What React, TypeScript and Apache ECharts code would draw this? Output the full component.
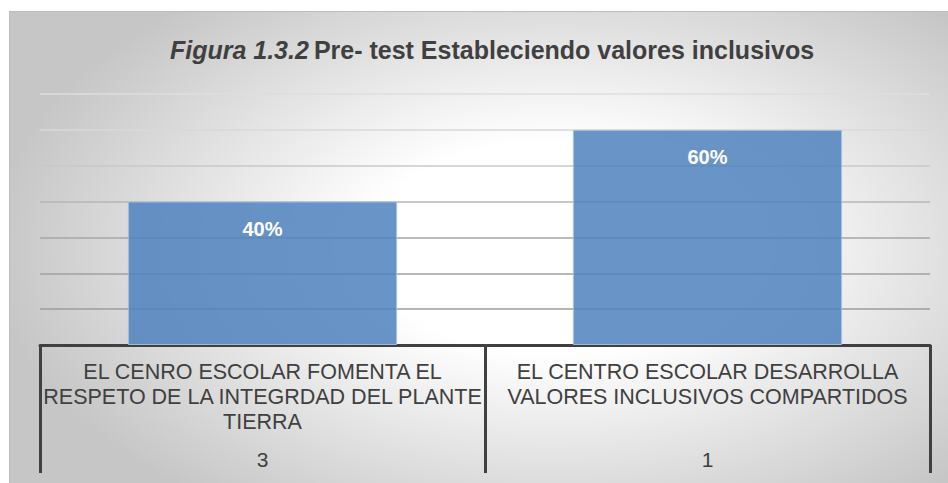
import React, { useEffect, useRef } from "react";
import * as echarts from "echarts";

const titleItalic = "Figura 1.3.2";
const titleRest = "Pre- test Estableciendo valores inclusivos";
const categories = [
  "EL CENRO ESCOLAR FOMENTA EL\nRESPETO DE LA INTEGRDAD DEL PLANTE\nTIERRA",
  "EL CENTRO ESCOLAR DESARROLLA\nVALORES INCLUSIVOS COMPARTIDOS",
];
const counts = ["3", "1"];
const values = [0.4, 0.6];
const gridColors = ["#999999", "#9c9c9c", "#a0a0a0", "#a6a6a6", "#b6b6b6", "#c8c8c8", "#d8d8d8", "#dedede"];

export default function App() {
  const ref = useRef<HTMLDivElement>(null);
  useEffect(() => {
    if (!ref.current) return;
    const chart = echarts.init(ref.current, null, { renderer: "svg" });
    chart.setOption({
      animation: false,
      backgroundColor: "transparent",
      title: {
        left: 487,
        textAlign: "center",
        top: 32,
        text: `{i|${titleItalic}} {b|${titleRest}}`,
        textStyle: {
          rich: {
            i: { fontFamily: "Liberation Sans, Arial", fontSize: 25, fontWeight: "bold", fontStyle: "italic", color: "#404040" },
            b: { fontFamily: "Liberation Sans, Arial", fontSize: 25, fontWeight: "bold", color: "#404040" },
          },
        },
      },
      grid: { left: 40, right: 18, top: 94, bottom: 138, containLabel: false },
      xAxis: [
        {
          type: "category",
          data: categories,
          position: "bottom",
          axisLine: { show: true, lineStyle: { color: "#404040", width: 3 } },
          axisTick: { show: true, length: 128, alignWithLabel: false, lineStyle: { color: "#404040", width: 3 } },
          axisLabel: {
            interval: 0,
            margin: 14,
            fontFamily: "Liberation Sans, Arial",
            fontSize: 21.5,
            lineHeight: 25,
            color: "#404040",
            align: "center",
          },
          splitLine: { show: false },
        },
        {
          type: "category",
          data: counts,
          position: "bottom",
          axisLine: { show: false },
          axisTick: { show: false },
          axisLabel: {
            interval: 0,
            margin: 103,
            fontFamily: "Liberation Sans, Arial",
            fontSize: 21,
            lineHeight: 22,
            color: "#404040",
          },
        },
      ],
      yAxis: {
        type: "value",
        min: 0,
        max: 0.7,
        interval: 0.1,
        axisLine: { show: false },
        axisTick: { show: false },
        axisLabel: { show: false },
        splitLine: { show: true, lineStyle: { color: gridColors, width: 1.5 } },
      },
      series: [
        {
          type: "bar",
          data: values,
          xAxisIndex: 0,
          barWidth: "60.5%",
          itemStyle: {
            color: "rgba(79,129,189,0.85)",
            borderColor: "rgba(170,195,225,0.9)",
            borderWidth: 1,
          },
          label: {
            show: true,
            position: "insideTop",
            distance: 17,
            formatter: (p: any) => `${Math.round(p.value * 100)}%`,
            color: "#ffffff",
            fontFamily: "Liberation Sans, Arial",
            fontWeight: "bold",
            fontSize: 20,
          },
        },
      ],
    });
    return () => chart.dispose();
  }, []);

  return (
    <div style={{ position: "absolute", left: 0, top: 0, width: 948, height: 483, overflow: "hidden", background: "#ffffff" }}>
      <div
        style={{
          position: "absolute",
          left: 9,
          top: 11,
          width: 948 - 9,
          height: 483 - 11,
          boxSizing: "border-box",
          borderTop: "1px solid #bdbdbd",
          borderLeft: "1px solid #bdbdbd",
          background: "radial-gradient(ellipse 60% 68% at 58% 50%, #ffffff 0%, #ffffff 33%, #c6c6c6 100%)",
        }}
      />
      <div ref={ref} style={{ position: "absolute", left: 0, top: 0, width: 948, height: 483 }} />
    </div>
  );
}
